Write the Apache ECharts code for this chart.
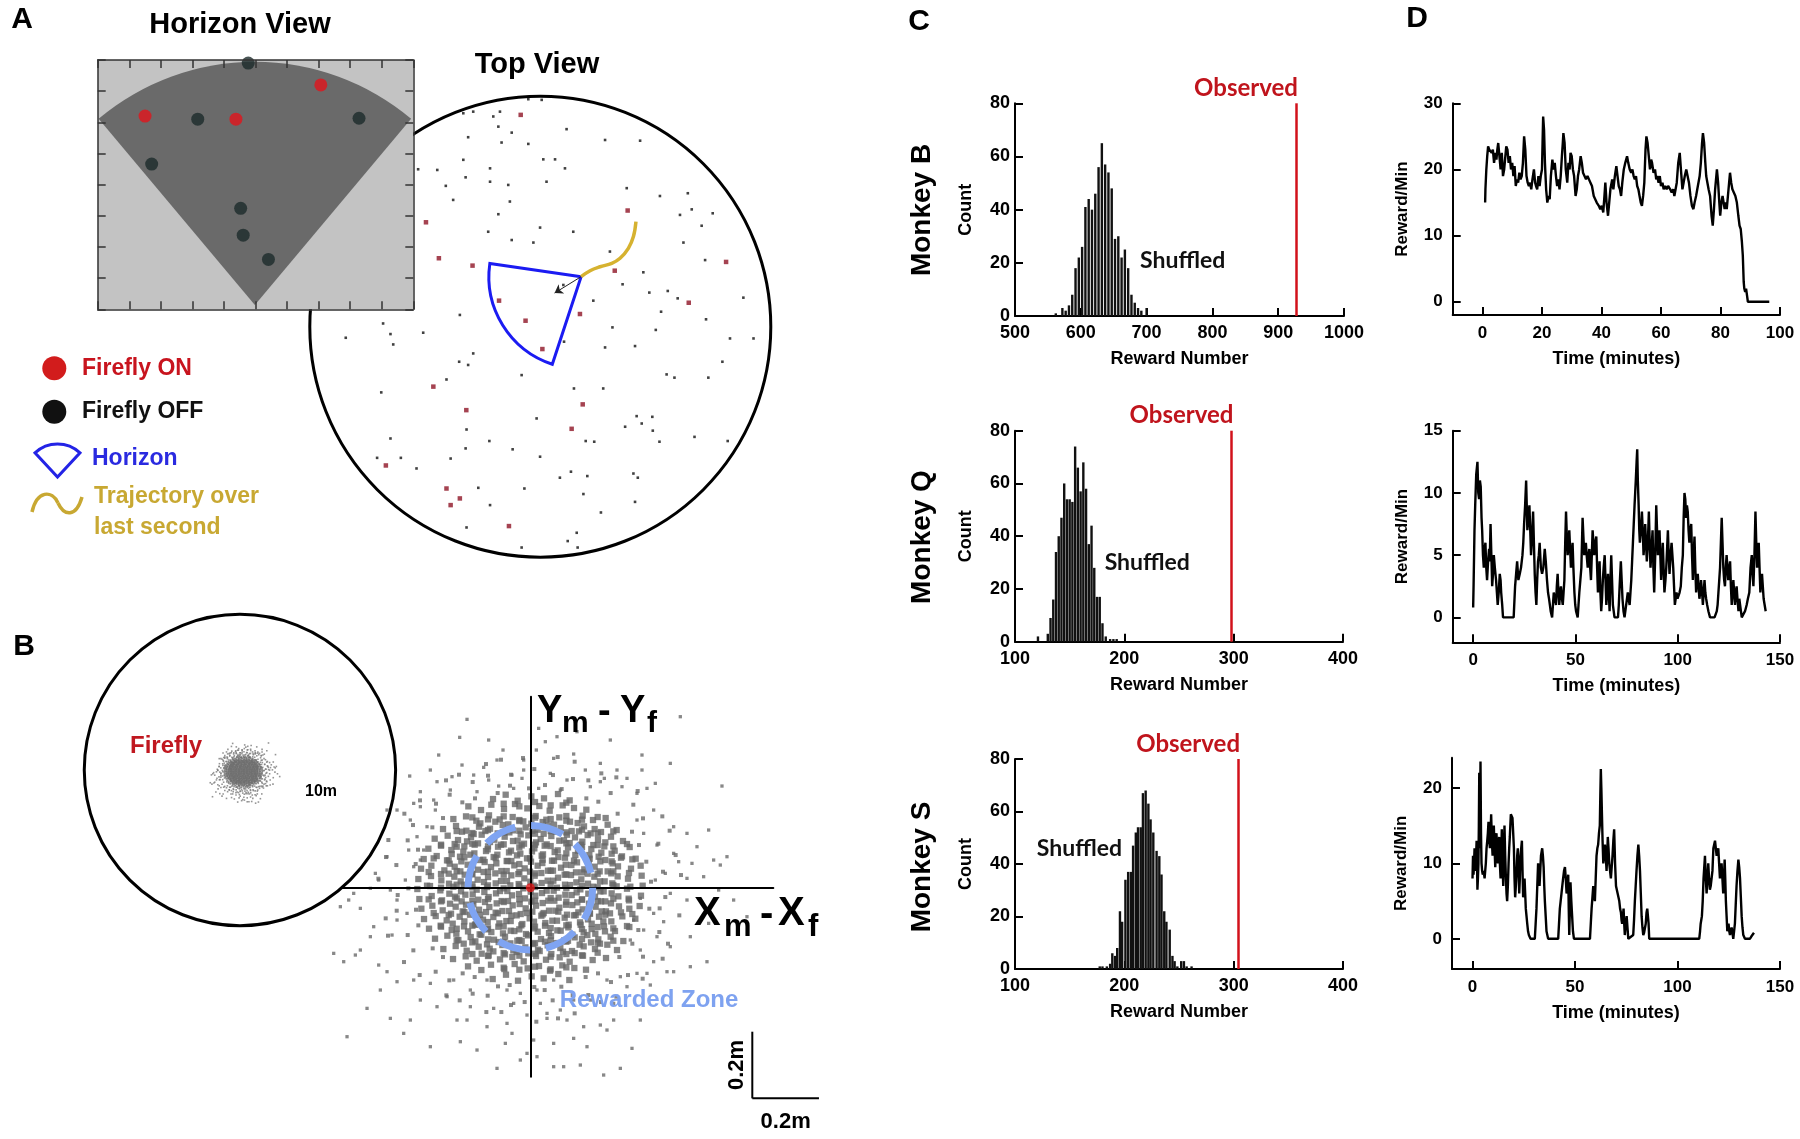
<!DOCTYPE html>
<html><head><meta charset="utf-8">
<script src="https://cdn.jsdelivr.net/npm/echarts@6/dist/echarts.min.js"></script>
<style>html,body{margin:0;padding:0;background:#fff}#c{width:1800px;height:1139px}</style>
</head><body><div id="c"></div>
<script>
const FONT = 'Liberation Sans';
// ================= DATA =================
// Panel A - horizon view (screen units: x 0..10, y 0..8)
const hvOn = [[7.07,7.2],[1.5,6.2],[4.38,6.1]];
const hvOff = [[4.77,7.9],[3.17,6.1],[8.28,6.13],[1.71,4.66],[4.53,3.24],[4.61,2.38],[5.41,1.6]];
const hvField = [[4.98,0.14,7.8,90,80]]; // apex x, apex y, radius, heading(deg), field of view(deg)
// Panel A - top view (metres)
const tvArena = [[0,0,10]];
const tvOn = [[-0.85,9.19],[3.79,5.04],[-4.96,4.53],[-4.40,2.97],[-2.94,2.65],[8.06,2.81],[3.23,2.43],[-1.79,1.13],[6.44,1.04],[-0.64,0.26],[1.72,0.55],[0.09,-0.97],[-4.64,-2.60],[1.84,-3.37],[-3.21,-3.62],[1.36,-4.43],[-6.70,-6.02],[-4.07,-7.02],[-3.49,-7.45],[-3.89,-7.74],[-1.36,-8.65]];
const tvOff = [[-1.75,9.33],[-2.91,9.33],[-2.04,9.12],[-3.34,9.26],[-0.52,9.87],[0.06,9.84],[1.14,8.57],[-1.24,8.42],[-1.82,8.68],[-1.68,7.99],[-3.13,8.22],[-0.52,7.93],[4.33,8.07],[2.81,8.10],[-3.34,7.24],[0.13,7.26],[0.64,7.26],[-2.18,6.87],[1.07,6.87],[-4.47,6.80],[-5.30,6.83],[-3.24,6.48],[-2.18,6.29],[-1.39,6.15],[0.27,6.29],[-4.10,6.11],[-3.78,5.50],[-1.32,5.43],[5.19,5.67],[6.40,5.79],[3.75,6.01],[-1.82,4.88],[6.06,4.85],[6.57,5.09],[7.48,4.92],[7.00,4.38],[-0.01,4.30],[1.43,4.12],[-2.26,4.12],[-1.24,3.76],[-0.30,3.65],[6.21,3.65],[3.02,3.26],[7.15,2.89],[4.47,2.36],[3.57,1.84],[4.73,1.48],[5.53,1.55],[5.96,1.23],[8.81,1.26],[2.30,1.13],[1.03,-0.65],[1.00,1.81],[-3.49,0.51],[5.24,0.65],[7.19,0.32],[5.01,-0.14],[3.13,-0.03],[-6.82,0.14],[-5.08,-0.26],[-6.50,-0.32],[-8.44,-0.48],[-6.38,-0.77],[8.23,-0.51],[9.25,-0.51],[4.11,-0.84],[2.81,-0.90],[-2.91,-1.16],[-3.52,-1.52],[-3.13,-1.66],[7.90,-1.52],[-0.81,-2.10],[5.48,-2.07],[5.82,-2.21],[7.29,-2.21],[-4.07,-2.29],[-6.90,-2.85],[2.73,-2.68],[1.46,-2.68],[-0.16,-3.98],[4.18,-3.88],[4.86,-3.91],[4.40,-4.20],[3.68,-4.34],[4.88,-4.51],[-3.20,-4.46],[6.69,-4.78],[-6.50,-4.85],[-2.21,-4.96],[1.97,-4.96],[2.34,-4.99],[5.17,-4.99],[8.13,-4.96],[-3.24,-5.28],[-1.20,-5.32],[-0.01,-5.64],[-7.08,-5.69],[-6.05,-5.69],[-5.37,-6.15],[-3.89,-5.72],[0.85,-6.55],[2.04,-6.48],[4.04,-6.37],[4.23,-6.55],[1.33,-6.29],[-2.69,-6.99],[-0.69,-7.02],[1.87,-7.26],[-2.18,-7.74],[4.11,-7.60],[2.63,-8.06],[-3.20,-8.71],[1.58,-8.94],[1.19,-9.30],[-0.81,-9.58],[1.62,-9.58]];
const tvHorizon = [[1.77,2.17,4.0,211.8,80]]; // apex x, y, radius, heading(deg), fov(deg)
const tvHeading = [[1.77,2.17],[0.62,1.46]];
const tvTrajectory = [[1.77,2.17],[2.16,2.43],[2.59,2.60],[3.10,2.75],[3.46,2.97],[3.82,3.40],[4.04,3.91],[4.15,4.56]];
// Panel B - stopping error (mm)
const errOuterMM = [[-190,505],[-212,451],[-82,413],[-275,398],[-300,353],[-362,335],[-205,368],[-140,361],[-170,338],[-125,323],[-95,305],[-55,338],[-25,328],[-50,298],[-20,353],[18,413],[70,388],[80,453],[25,478],[45,438],[130,401],[165,353],[210,373],[240,443],[335,398],[335,353],[375,313],[575,305],[450,513],[275,303],[320,283],[350,298],[222,328],[180,303],[110,323],[60,343],[90,293],[25,298],[-160,288],[-240,293],[-330,288],[-280,318],[-235,333],[-125,443],[-100,383],[-20,383],[140,468],[210,318],[260,353],[290,328],[420,373],
[-430,233],[-465,43],[-455,23],[-480,-2],[-530,-17],[-545,-37],[-570,-57],[-590,-197],[-560,-222],[-525,-202],[-510,-187],[-470,-117],[-480,-147],[-455,-232],[-430,-252],[-415,-142],[-400,-97],[-370,-77],[-400,-37],[-420,-7],[-375,23],[-350,63],[-330,83],[-320,113],[-365,113],[-340,153],[-310,183],[-360,203],[-400,233],[-330,243],[-285,233],[-290,263],[-350,253],[-430,93],[-510,-62],
[370,233],[430,183],[470,163],[535,173],[500,123],[550,83],[590,93],[570,68],[445,78],[405,43],[375,23],[470,28],[520,33],[420,-17],[470,-37],[535,-107],[480,-147],[530,-222],[420,-177],[380,-147],[330,-187],[370,-222],[410,-252],[320,-257],[290,-297],[360,-292],[330,-32],[370,-77],[400,-102],[310,-97],[340,-127],[300,-157],[380,128],[340,163],[320,203],[430,103],[485,73],[565,-7],[610,-37],[650,-87],
[-30,-517],[-10,-497],[20,-507],[70,-537],[100,-537],[150,-532],[220,-562],[270,-542],[-100,-542],[-160,-487],[-210,-462],[-75,-467],[-55,-437],[10,-457],[70,-467],[130,-452],[170,-477],[230,-427],[305,-482],[-300,-477],[-380,-437],[-420,-392],[-490,-362],[-550,-447],[-220,-397],[-190,-397],[-130,-417],[-70,-407],[-10,-382],[50,-392],[110,-397],[160,-417],[210,-412],[250,-397],[330,-397],[-280,-357],[-330,-337],[-360,-397],[-250,-327],[-180,-357],[-110,-362],[-50,-347],[30,-347],[50,-377],[90,-367],[130,-337],[180,-337],[250,-347],[-450,-307],[-400,-282],[-350,-277],[-300,-287],[-230,-277],[-180,-307],[-130,-277],[-70,-307],[-30,-317],[20,-307],[70,-277],[230,-277],[270,-267],[350,-257],[430,-252],[480,-237]];
const errMidMM = [[362,18],[405,-28],[452,38],[348,78],[398,48],[436,98],[326,128],[384,132],[418,171],[305,168],[338,208],[396,214],[262,222],[309,249],[322,290],[204,258],[241,284],[258,331],[168,268],[174,322],[213,343],[94,296],[128,326],[133,378],[44,308],[68,338],[82,392],[-4,298],[12,356],[-22,389],[-61,306],[-58,339],[-88,384],[-98,284],[-127,336],[-133,371],[-166,268],[-173,317],[-214,339],[-204,256],[-242,279],[-253,322],[-262,209],[-283,252],[-331,262],[-294,181],[-352,188],[-378,222],[-337,114],[-368,142],[-426,143],[-344,71],[-402,68],[-433,92],[-366,-2],[-398,-22],[-456,27],[-343,-66],[-401,-69],[-434,-92],[-336,-113],[-368,-142],[-427,-144],[-293,-182],[-351,-188],[-379,-223],[-262,-208],[-284,-252],[-332,-262],[-203,-257],[-243,-278],[-252,-323],[-167,-268],[-173,-318],[-212,-338],[-97,-296],[-128,-324],[-132,-373],[-62,-292],[-58,-352],[-87,-373],[12,-298],[-17,-343],[18,-402],[43,-307],[67,-338],[83,-392],[93,-297],[127,-322],[133,-377],[166,-268],[174,-322],[212,-343],[203,-257],[242,-283],[258,-327],[267,-208],[293,-262],[337,-273],[306,-168],[338,-207],[397,-213],[324,-127],[387,-133],[413,-168],[357,-63],[388,-62],[447,-83]];
const errCoreMM = [
[-112,266],[-74,279],[-38,261],[3,274],[41,268],[83,281],[118,262],
[-186,244],[-148,233],[-117,249],[-79,236],[-46,251],[-9,238],[27,245],[58,231],[97,247],[131,239],[168,234],
[-231,206],[-193,214],[-162,201],[-124,217],[-92,205],[-53,212],[-21,199],[16,215],[48,204],[87,211],[119,198],[157,216],[188,203],[226,209],
[-262,176],[-223,185],[-192,171],[-154,183],[-121,177],[-83,188],[-52,172],[-14,181],[22,174],[53,187],[91,179],[124,170],[161,184],[193,176],[232,189],[259,173],
[-287,147],[-248,156],[-217,143],[-178,152],[-146,159],[-108,144],[-77,153],[-38,141],[-6,157],[31,146],[63,155],[101,142],[134,151],[172,158],[203,145],[242,153],[278,140],
[-306,117],[-268,126],[-237,113],[-198,124],[-167,129],[-128,115],[-97,123],[-58,111],[-26,127],[12,118],[43,126],[82,112],[113,121],[152,129],[183,116],[222,124],[253,111],[298,122],
[-320,86],[-281,95],[-250,82],[-211,93],[-180,99],[-141,84],[-110,92],[-71,80],[-40,97],[-1,88],[34,96],[65,81],[104,90],[135,98],[174,85],[205,93],[244,79],[275,94],[316,87],
[-328,57],[-297,66],[-258,52],[-227,63],[-188,69],[-157,54],[-118,62],[-87,50],[-48,67],[-17,58],[22,66],[53,51],[92,60],[123,68],[162,55],[193,63],[232,49],[263,64],[302,57],[331,66],
[-336,26],[-298,35],[-267,22],[-228,33],[-197,39],[-158,24],[-127,32],[-88,20],[-57,37],[-18,28],[13,36],[52,21],[83,30],[122,38],[153,25],[192,33],[223,19],[262,34],[293,27],[334,36],
[-339,-4],[-301,5],[-270,-8],[-231,3],[-200,9],[-161,-6],[-130,2],[-91,-10],[-60,7],[-21,-2],[10,6],[49,-9],[80,0],[119,8],[150,-5],[189,3],[220,-11],[259,4],[290,-3],[337,6],
[-333,-34],[-296,-25],[-265,-38],[-226,-27],[-195,-21],[-156,-36],[-125,-28],[-86,-40],[-55,-23],[-16,-32],[15,-24],[54,-39],[85,-30],[124,-22],[155,-35],[194,-27],[225,-41],[264,-26],[295,-33],[332,-24],
[-327,-63],[-294,-54],[-263,-68],[-224,-57],[-193,-51],[-154,-66],[-123,-58],[-84,-70],[-53,-53],[-14,-62],[17,-54],[56,-69],[87,-60],[126,-52],[157,-65],[196,-57],[227,-71],[266,-56],[297,-63],[328,-55],
[-319,-94],[-284,-85],[-251,-98],[-212,-87],[-181,-81],[-142,-96],[-111,-88],[-72,-100],[-41,-83],[-2,-92],[33,-84],[66,-99],[103,-90],[136,-82],[173,-95],[206,-87],[243,-101],[276,-86],[315,-93],
[-304,-123],[-269,-114],[-236,-127],[-199,-116],[-166,-111],[-129,-125],[-96,-117],[-59,-129],[-27,-113],[11,-122],[44,-114],[81,-128],[114,-119],[151,-111],[184,-124],[221,-116],[254,-130],[297,-118],
[-286,-153],[-249,-144],[-216,-157],[-179,-148],[-147,-141],[-109,-156],[-76,-147],[-39,-159],[-7,-143],[32,-154],[62,-145],[102,-158],[133,-149],[171,-142],[204,-155],[241,-147],[279,-160],
[-261,-184],[-224,-175],[-191,-189],[-155,-177],[-122,-183],[-84,-172],[-51,-188],[-15,-179],[23,-186],[52,-173],[90,-181],[125,-190],[160,-176],[194,-184],[231,-171],[260,-187],
[-232,-214],[-194,-206],[-161,-219],[-125,-203],[-91,-215],[-54,-208],[-20,-221],[17,-205],[47,-216],[88,-209],[118,-222],[158,-204],[187,-217],[227,-211],
[-187,-236],[-147,-247],[-118,-231],[-78,-244],[-47,-229],[-8,-242],[26,-235],[59,-249],[96,-233],[132,-241],[167,-246],
[-113,-274],[-73,-261],[-37,-279],[4,-266],[40,-272],[84,-259],[117,-277],
[-150,193],[-105,198],[-66,190],[-33,200],[3,192],[37,197],[71,189],[108,201],[142,194],
[-205,168],[-170,161],[-135,170],[-98,163],[-63,166],[-29,160],[6,171],[40,162],[76,168],[110,159],[146,169],[181,163],[212,167],
[-227,131],[-190,139],[-157,133],[-121,137],[-88,129],[-52,140],[-19,132],[17,136],[49,130],[87,141],[118,134],[156,138],[189,128],[225,136],
[-236,101],[-201,108],[-168,103],[-133,110],[-99,99],[-64,106],[-30,102],[5,109],[38,100],[73,107],[108,103],[143,111],[177,98],[213,105],[244,102],
[-242,72],[-207,79],[-172,70],[-137,77],[-102,73],[-68,80],[-33,71],[2,78],[36,74],[71,81],[106,69],[140,76],[175,72],[210,79],[247,73],
[-245,42],[-210,49],[-175,40],[-140,47],[-105,43],[-71,50],[-36,41],[-1,48],[33,44],[68,51],[103,39],[137,46],[172,42],[208,49],[243,43],
[-244,12],[-209,19],[-174,10],[-139,17],[-104,13],[-70,20],[-35,11],[0,18],[34,14],[69,21],[104,9],[138,16],[173,12],[209,19],[246,13],
[-243,-18],[-208,-11],[-173,-20],[-138,-13],[-103,-17],[-69,-10],[-34,-19],[1,-12],[35,-16],[70,-9],[105,-21],[139,-14],[174,-18],[210,-11],[244,-17],
[-241,-48],[-206,-41],[-171,-50],[-136,-43],[-101,-47],[-67,-40],[-32,-49],[3,-42],[37,-46],[72,-39],[107,-51],[141,-44],[176,-48],[212,-41],[242,-47],
[-238,-78],[-203,-71],[-168,-80],[-133,-73],[-98,-77],[-64,-70],[-29,-79],[6,-72],[40,-76],[75,-69],[110,-81],[144,-74],[179,-78],[214,-71],[239,-77],
[-233,-108],[-198,-101],[-163,-110],[-128,-103],[-93,-107],[-59,-100],[-24,-109],[11,-102],[45,-106],[80,-99],[115,-111],[149,-104],[184,-108],[219,-101],
[-222,-138],[-187,-131],[-152,-140],[-117,-133],[-82,-137],[-48,-130],[-13,-139],[22,-132],[56,-136],[91,-129],[126,-141],[160,-134],[195,-138],[224,-131],
[-200,-168],[-165,-161],[-130,-170],[-95,-163],[-60,-167],[-26,-160],[9,-169],[44,-162],[78,-166],[113,-159],[148,-171],[182,-164],[209,-168],
[-146,-198],[-111,-191],[-76,-200],[-41,-193],[-6,-197],[28,-190],[63,-199],[98,-192],[133,-196],
[-80,252],[-33,244],[14,257],[61,247],[108,255],
[-174,211],[-127,205],[-80,214],[-33,203],[14,210],[61,206],[108,215],[155,204],[202,212],
[-221,170],[-174,164],[-127,173],[-80,165],[-33,171],[14,162],[61,170],[108,166],[155,174],[202,163],[249,169],
[-268,129],[-221,123],[-174,132],[-127,124],[-80,130],[-33,121],[14,129],[61,125],[108,133],[155,122],[202,128],[249,124],[290,131],
[-290,88],[-245,82],[-198,91],[-151,83],[-104,89],[-57,80],[-10,88],[37,84],[84,92],[131,81],[178,87],[225,83],[272,90],[306,85],
[-305,47],[-268,41],[-221,50],[-174,42],[-127,48],[-80,39],[-33,47],[14,43],[61,51],[108,40],[155,46],[202,42],[249,49],[296,44],
[-310,6],[-268,0],[-221,9],[-174,1],[-127,7],[-80,-2],[-33,6],[14,2],[61,10],[108,-1],[155,5],[202,1],[249,8],[300,3],
[-305,-35],[-268,-41],[-221,-32],[-174,-40],[-127,-34],[-80,-43],[-33,-35],[14,-39],[61,-31],[108,-42],[155,-36],[202,-40],[249,-33],[296,-38],
[-290,-76],[-245,-82],[-198,-73],[-151,-81],[-104,-75],[-57,-84],[-10,-76],[37,-80],[84,-72],[131,-83],[178,-77],[225,-81],[272,-74],[306,-79],
[-268,-117],[-221,-123],[-174,-114],[-127,-122],[-80,-116],[-33,-125],[14,-117],[61,-121],[108,-113],[155,-124],[202,-118],[249,-122],[290,-115],
[-221,-158],[-174,-164],[-127,-155],[-80,-163],[-33,-157],[14,-166],[61,-158],[108,-162],[155,-154],[202,-165],[249,-159],
[-174,-199],[-127,-205],[-80,-196],[-33,-204],[14,-198],[61,-207],[108,-199],[155,-203],[202,-195],
[-80,-240],[-33,-246],[14,-237],[61,-245],[108,-239]];
const rewardZone = [[0,0,187]];      // centre x, y, radius (mm)
const fireflyPos = [[0,0]];
const scaleBar = [[666,-632,200]];   // corner x, y, length (mm)
const bArena = [[-60,30,2780]];      // small arena view (mm)
// Panel C - shuffled reward histograms
const obsB = 927, obsQ = 298, obsS = 304;
const histBinsB = [562,572,577,582,587,592,597,602,607,612,617,622,627,632,637,642,647,652,657,662,667,672,677,682,687,692,700];
const histCountsB = [1,3,2,4,8,18,22,26,41,44,40,46,56,65,57,54,48,29,30,22,25,18,8,5,3,2,3];
const histBinsQ = [121,130,132.5,135,137.5,140,142.5,145,147.5,150,152.5,155,157.5,160,162.5,165,167.5,170,172.5,175,177.5,180,183,187,190,193];
const histCountsQ = [2,3,9,16,34,40,47,60,54,54,53,74,66,57,68,58,37,44,28,17,17,7,2,1,1,1];
const histBinsS = [177.5,180,184,187,189,191.5,193.5,196,198,201,203.5,206,208,210.5,212.5,215,217,219.5,222,224,226.5,229.5,232,234,236.5,238.5,241.5,244,246,248.5,252,254.5,257,261.5];
const histCountsS = [1,1,1,2,6,5,8,22,18,34,37,37,47,52,54,54,67,68,63,57,52,45,43,36,22,18,15,5,3,1,3,3,1,1];
// Panel D - reward rate over time [minutes, rewards/min]
const rateB = [[0.9,15],[1.0,17],[1.3,20],[1.6,22],[1.9,23.5],[2.3,23],[2.7,23],[3.1,22.5],[3.5,23],[3.9,21],[4.3,22.5],[4.7,21.5],[5.0,23],[5.3,24],[5.7,22],[6.1,20],[6.5,22.5],[6.9,19],[7.3,20],[7.7,22],[8.0,23.5],[8.4,23],[8.8,21],[9.2,22],[9.6,20],[10.0,21],[10.4,19],[10.8,20.5],[11.2,17.5],[11.6,18.5],[12.0,18],[12.4,19.5],[12.8,18.5],[13.2,19],[13.6,21],[14.0,25],[14.4,23],[14.8,19],[15.2,18],[15.6,17.5],[16.0,18],[16.4,17],[16.8,18.5],[17.3,20],[17.7,18],[18.0,17.5],[18.4,17],[18.8,19],[19.2,17.5],[19.6,19],[20.0,20],[20.2,24],[20.4,28],[20.7,26],[21.0,21],[21.4,17],[21.8,15],[22.2,16],[22.6,15.5],[23.0,19],[23.5,21.5],[23.9,20],[24.3,21],[24.7,19],[25.1,17.5],[25.5,18.5],[25.9,17],[26.3,19],[26.7,22],[27.0,24],[27.2,25.5],[27.6,24],[28.0,20],[28.5,18],[28.9,21],[29.3,20],[29.6,22.5],[30.0,22],[30.4,20],[30.8,19],[31.3,16],[31.7,17],[32.1,19],[32.5,20],[33.0,22],[33.4,21],[33.8,19.5],[34.3,19],[34.8,18.5],[35.3,19],[35.8,18.5],[36.3,18],[36.8,17.5],[37.4,16],[37.9,15.5],[38.4,15],[39.1,14.5],[39.6,14],[40.1,14.5],[40.6,13.5],[41.0,16],[41.3,18],[41.7,15],[42.2,13],[42.6,15],[43.0,17],[43.6,18.5],[44.0,17],[44.5,19],[45.0,20.5],[45.4,19],[45.8,17.5],[46.2,17],[46.6,16],[47.0,18],[47.5,20],[48.0,21],[48.6,22],[49.0,21],[49.5,20],[50.0,19.5],[50.4,20],[50.8,19],[51.2,18.5],[51.6,19],[52.0,17.5],[52.4,17],[52.8,16],[53.2,15],[53.6,14.5],[54.0,16],[54.4,18],[54.8,23],[55.1,25],[55.5,24],[55.9,22],[56.3,20],[56.7,21.5],[57.0,21],[57.5,19.5],[58.0,20],[58.4,18.5],[58.7,19],[59.2,18],[59.6,19],[60.0,17.5],[60.5,18],[60.9,17],[61.4,17.5],[61.9,17],[62.4,17.5],[63.1,17],[63.6,16.5],[64.1,17],[64.5,16],[64.8,16],[65.3,18],[65.8,21],[66.3,22.5],[66.7,20],[67.2,17],[67.6,18],[68.0,19],[68.5,20],[68.9,20],[69.4,18],[69.9,16],[70.4,14.5],[70.9,14],[71.3,15],[71.8,16],[72.2,17],[72.6,17],[73.0,19],[73.4,21],[73.8,24],[74.1,25.5],[74.5,24],[74.9,21],[75.2,19],[75.6,18],[76.0,17],[76.5,16],[77.0,13],[77.4,11.5],[77.8,14],[78.2,17],[78.8,20],[79.2,18],[79.6,15],[79.9,13],[80.3,15],[80.7,16],[81.0,16],[81.4,14],[81.8,15],[82.1,14],[82.5,16],[82.9,18],[83.2,19.5],[83.6,18],[84.0,17],[84.6,17],[85.0,16],[85.5,15],[86.0,13],[86.4,11.5],[86.8,11],[87.2,9],[87.5,7],[87.8,3],[88.0,2],[88.3,1.5],[88.6,2],[88.9,1],[89.2,0],[96.4,0]];
const rateQ = [[0,0.8],[0.2,2.5],[0.65,7],[1.0,9],[1.5,11.5],[2.1,12.5],[2.5,10],[2.9,9.5],[3.3,11],[3.7,10.5],[4.1,8],[4.4,7],[4.8,5],[5.2,4],[5.6,5.5],[6.0,6],[6.4,4],[6.8,3],[7.3,4.5],[7.8,5.5],[8.1,4.5],[8.5,7.5],[8.9,5],[9.3,2.5],[9.7,3.5],[10.1,5],[10.6,4],[11.2,3],[11.6,2],[12.0,1],[12.5,2],[13.0,3.5],[13.4,3],[13.7,2],[14.2,1],[14.6,0],[15,0],[19.8,0],[20.5,2.5],[21.0,3.5],[21.5,4.5],[22.1,3],[22.8,3.5],[23.4,4],[24.1,5],[24.5,6],[24.9,7.5],[25.4,9],[25.9,11],[26.2,9],[26.5,7],[27.0,8],[27.5,9],[27.9,7],[28.3,5],[28.8,6.5],[29.3,8.5],[29.7,6],[30.1,3.5],[30.5,2],[30.9,1],[31.3,3],[31.7,4.5],[32.1,5],[32.5,6],[33.1,4],[33.7,3.5],[34.3,4],[35.0,5.5],[35.5,4.5],[36.1,3],[36.6,2],[37.1,1.5],[37.5,1],[37.9,0.5],[38.6,0],[39.0,1],[39.4,2],[40.0,1.5],[40.5,1],[40.9,2.5],[41.3,3.5],[41.7,2],[42.1,1],[42.5,2],[42.9,2.5],[43.4,1.5],[43.8,1],[44.2,2],[44.6,3],[45.0,6],[45.4,8.5],[45.8,6.5],[46.2,5],[46.6,6],[47.0,7],[47.4,5.5],[47.8,4],[48.2,5],[48.6,6],[49.0,4],[49.5,2],[49.9,1],[50.3,0.5],[51.1,0],[51.5,1],[51.9,2],[52.4,3],[52.9,4],[53.2,6],[53.5,8],[53.9,6.5],[54.3,5],[54.7,5.5],[55.1,6],[55.5,5],[56.0,4],[56.4,5],[56.8,5.5],[57.2,4],[57.6,3],[58.0,5],[58.4,7],[58.8,6],[59.2,5],[59.7,6],[60.2,6.5],[60.6,4],[61.0,2],[61.4,3],[61.8,4.5],[62.2,2],[62.6,0.5],[63.0,1.5],[63.4,3],[63.8,4],[64.3,5],[64.7,3],[65.1,1],[65.5,2],[65.9,3.5],[66.3,2],[66.7,0.5],[67.1,3],[67.5,5],[67.9,3],[68.3,1],[68.7,0.5],[69.1,0],[70.8,0],[71.2,1],[71.6,2.5],[72.2,4.5],[72.6,3],[73.0,1.5],[73.5,0.5],[74.0,0],[74.4,0.5],[74.8,1],[75.2,1.5],[75.6,2],[76.0,1.5],[76.5,1],[76.9,2],[77.3,3],[77.7,4.5],[78.1,6],[78.5,7.5],[78.9,9],[79.2,10],[79.5,11],[79.9,12.5],[80.2,13.5],[80.5,11],[80.9,9],[81.2,7],[81.5,6],[82.0,7],[82.5,8.5],[82.9,7],[83.3,5],[83.7,6],[84.1,7.5],[84.5,6],[84.9,4.5],[85.4,6],[85.9,8.5],[86.3,6],[86.7,4],[87.2,5.5],[87.7,7],[88.1,4],[88.5,2],[89.0,5],[89.5,9],[89.9,7],[90.3,5],[90.7,6],[91.1,7],[91.5,5],[91.9,3],[92.3,4.5],[92.7,6],[93.1,4],[93.5,2],[94.0,3],[94.4,4],[94.8,5.5],[95.2,7],[95.6,5],[96.0,3.5],[96.5,5],[97.0,6],[97.4,5],[97.8,4],[98.2,2.5],[98.6,1],[99.0,1.5],[99.4,2],[99.9,1.5],[100.4,1.5],[100.9,2],[101.5,2.5],[102.0,4],[102.5,5],[102.9,8],[103.3,10],[103.7,9.5],[104.1,8],[104.5,9],[104.9,8.5],[105.3,7],[105.7,6],[106.1,7],[106.6,7.5],[107.0,5],[107.4,3],[107.8,5],[108.2,6.5],[108.6,4],[109.0,2],[109.4,3],[109.8,3.5],[110.2,2.5],[110.6,1.5],[111.0,2],[111.4,3],[111.9,2],[112.3,1],[112.7,2],[113.1,3],[113.5,2],[113.9,1.5],[114.4,1],[115.0,0.5],[115.8,0],[118.0,0],[119.1,0.5],[119.5,1],[119.9,2],[120.3,3],[120.7,4],[121.1,6],[121.5,8],[121.9,6],[122.3,4],[122.7,3],[123.1,2.5],[123.5,4],[123.9,5],[124.3,4],[124.7,3],[125.2,4],[125.6,4.5],[126.0,2.5],[126.4,1],[126.8,2],[127.2,3],[127.6,2],[128.0,1],[128.4,2],[128.8,2.5],[129.2,1.5],[129.7,0.5],[130.1,1.5],[130.5,1],[130.9,0.5],[131.3,0],[132.9,0.5],[133.3,0.5],[133.7,1],[134.3,1.5],[135.0,2],[135.6,4],[136.2,5],[136.6,3.5],[137.0,2.5],[137.5,5],[138.0,8.5],[138.4,6],[138.8,4],[139.2,5],[139.6,6],[140.0,4],[140.4,2],[140.8,3],[141.2,3.5],[141.6,2.5],[142.0,1.5],[142.5,1],[143.0,0.5]];
const rateS = [[0,8],[0.25,11],[0.5,8.5],[0.75,10],[1.0,12],[1.25,9],[1.5,9],[1.75,11],[2.0,13],[2.2,10],[2.4,6.5],[2.65,8],[2.9,10],[3.1,15],[3.3,22],[3.45,16],[3.6,12],[3.75,18],[3.9,23.5],[4.15,14],[4.4,10],[4.7,9],[5.0,8.5],[5.45,9],[5.9,8],[6.2,9],[6.5,10],[6.85,12],[7.2,13],[7.5,14],[7.8,15.5],[8.15,13],[8.5,12],[8.8,14],[9.1,16.5],[9.45,13],[9.8,11],[10.1,13],[10.4,15],[10.75,12],[11.1,9.5],[11.4,12],[11.7,14],[12.05,11],[12.4,10],[12.7,12],[13.0,13.5],[13.35,10],[13.7,8],[14.0,11],[14.3,14.5],[14.65,10],[15.0,7],[15.3,11],[15.6,15],[15.95,11],[16.3,8],[16.6,6],[16.9,5],[17.25,7],[17.6,10],[17.9,12],[18.2,13.5],[18.45,15],[18.7,16.5],[19.1,16.5],[19.5,16],[19.85,14],[20.2,12],[20.5,8],[20.8,5.5],[21.15,7],[21.5,9],[21.8,11],[22.1,12],[22.45,9],[22.8,6],[23.1,8],[23.4,11],[23.75,12],[24.1,13],[24.4,9],[24.7,5.5],[25.05,6.5],[25.4,8],[25.7,6],[26.0,4],[26.35,3],[26.7,2],[27.1,1],[27.5,0.5],[28.3,0],[30.4,0],[30.8,2],[31.2,4],[31.6,7],[32.0,10],[32.35,8.5],[32.7,7],[33.05,9],[33.4,11],[33.7,11.5],[34.0,12],[34.35,11],[34.7,9.5],[35.0,7],[35.3,5],[35.7,3],[36.1,1],[36.5,0.5],[36.9,0],[41.8,0],[42.2,2],[42.6,4],[43.0,5],[43.4,6],[43.8,7],[44.2,8],[44.65,9],[45.1,9.5],[45.5,8],[45.9,6],[46.3,7],[46.7,8.5],[46.95,4],[47.2,0.5],[47.5,4],[47.8,7.5],[48.2,5],[48.6,3],[49.0,1],[49.5,0],[57.3,0],[57.7,2],[58.1,4],[58.5,5.5],[58.9,7],[59.3,6],[59.7,5],[60.1,8],[60.5,11],[60.9,12],[61.3,12.5],[61.7,14],[62.1,15],[62.35,19],[62.6,22.5],[62.85,20],[63.1,17],[63.45,13],[63.8,10],[64.2,11],[64.6,12.5],[65.0,11],[65.4,9],[65.7,11],[66.0,13.5],[66.35,12],[66.7,10],[67.1,9],[67.5,8],[67.9,9.5],[68.3,11],[68.7,13],[69.1,14.5],[69.55,10],[70.0,7],[70.4,6.5],[70.8,6],[71.2,5.5],[71.6,5],[72.0,4],[72.4,3.5],[72.7,2.5],[73.0,2],[73.35,3],[73.7,4],[74.0,2],[74.3,0.5],[74.75,2],[75.2,3],[75.6,1.5],[76.0,0],[78.4,0.5],[78.8,2.5],[79.2,5],[79.6,7],[80.0,9],[80.45,11],[80.9,12.5],[81.3,11],[81.7,9],[82.1,6],[82.5,3],[82.9,1.5],[83.3,0.5],[83.7,0.8],[84.1,1],[84.5,2],[84.9,3.5],[85.25,4],[85.6,4],[85.9,2],[86.2,0],[110.6,0],[111.0,1],[111.3,2],[111.6,2.5],[111.9,3],[112.3,5],[112.7,8],[113.05,9.5],[113.4,11],[113.8,8],[114.2,6],[114.6,8],[115.0,10],[115.4,8],[115.8,6.5],[116.2,7],[116.6,7],[117.05,9],[117.5,12],[117.9,12.5],[118.3,13],[118.7,12],[119.1,11],[119.5,11.5],[119.9,12],[120.3,10],[120.7,8],[121.1,9],[121.5,10],[121.9,8],[122.3,6],[122.65,8],[123.0,10.5],[123.3,8],[123.6,5],[123.95,3],[124.3,1],[124.6,1.5],[124.9,2],[125.25,1],[125.6,0.5],[126.0,1],[126.4,1.5],[126.8,0.8],[127.2,0],[127.6,1],[128.0,2],[128.4,4.5],[128.8,7],[129.25,9],[129.7,10.5],[130.1,9.5],[130.5,8],[130.9,5.5],[131.3,3],[131.7,1.5],[132.1,0.5],[132.9,0],[135.3,0],[136.0,0.3],[136.7,0.5],[137.3,0.8]];
const ticksDB = [0,20,40,60,80,100], ticksDQS = [0,50,100,150];
const yTicksDB = [0,10,20,30], yTicksDQ = [0,5,10,15], yTicksDS = [0,10,20];

// ================= HELPERS =================
const pair = (xs, ys) => xs.map((x, i) => [x, ys[i]]);
function sectorItem(fill, stroke, lw, useY) {
  return function (params, api) {
    const c = api.coord([api.value(0), api.value(1)]);
    const sz = api.size([api.value(2), api.value(2)]);
    const r = useY ? sz[1] : sz[0];
    const h = api.value(3), f = api.value(4);
    return {type:'sector', shape:{cx:c[0], cy:c[1], r:r, r0:0,
      startAngle:(-h - f/2)*Math.PI/180, endAngle:(-h + f/2)*Math.PI/180, clockwise:true},
      style:{fill:fill, stroke:stroke, lineWidth:lw}};
  };
}
function circleItem(stroke, lw, dash) {
  return function (params, api) {
    const c = api.coord([api.value(0), api.value(1)]);
    const r = api.size([api.value(2), 0])[0];
    const st = {fill:'none', stroke:stroke, lineWidth:lw};
    if (dash) st.lineDash = dash;
    return {type:'circle', shape:{cx:c[0], cy:c[1], r:r}, style:st};
  };
}
function scaleBarItem(params, api) {
  const x = api.value(0), y = api.value(1), L = api.value(2);
  const p0 = api.coord([x, y]), p1 = api.coord([x, y + L]), p2 = api.coord([x + L, y]);
  const ts = {fontSize:22, fontWeight:'bold', fontFamily:FONT, fill:'#000', align:'center', verticalAlign:'middle'};
  return {type:'group', children:[
    {type:'line', shape:{x1:p0[0], y1:p0[1], x2:p1[0], y2:p1[1]}, style:{stroke:'#000', lineWidth:2}},
    {type:'line', shape:{x1:p0[0], y1:p0[1], x2:p2[0], y2:p2[1]}, style:{stroke:'#000', lineWidth:2}},
    {type:'text', x:p0[0]-15, y:(p0[1]+p1[1])/2, rotation:Math.PI/2, style:Object.assign({text:'0.2m'}, ts)},
    {type:'text', x:(p0[0]+p2[0])/2, y:p0[1]+24, style:Object.assign({text:'0.2m'}, ts)}
  ]};
}
const lab = {color:'#000', fontWeight:'bold', fontSize:18, fontFamily:FONT};
const axLine = {show:true, onZero:false, lineStyle:{color:'#000', width:2}};
const tickIn = {show:true, inside:true, length:8, lineStyle:{color:'#000', width:2}};
const hidden = {show:false};
const plain = v => String(v);
function hvAxis(pos, max) {
  return {type:'value', gridIndex:0, position:pos, min:0, max:max, interval:1, z:13,
    axisLine:{show:true, onZero:false, lineStyle:{color:'#333', width:1.5}},
    axisTick:{show:true, inside:true, length:8, lineStyle:{color:'#333', width:1.5}},
    axisLabel:hidden, splitLine:hidden};
}
function blankAxis(g, min, max) {
  return {type:'value', gridIndex:g, min:min, max:max, show:false, splitLine:hidden};
}
function cX(g, min, max) {
  return {type:'value', gridIndex:g, min:min, max:max, interval:100, axisLine:axLine, axisTick:tickIn,
    axisLabel:Object.assign({margin:8, formatter:plain}, lab), splitLine:hidden,
    name:'Reward Number', nameLocation:'middle', nameGap:34, nameTextStyle:Object.assign({}, lab)};
}
function cY(g) {
  return {type:'value', gridIndex:g, min:0, max:80, interval:20, axisLine:axLine, axisTick:tickIn,
    axisLabel:Object.assign({margin:5}, lab), splitLine:hidden,
    name:'Count', nameLocation:'middle', nameGap:40, nameRotate:90, nameTextStyle:Object.assign({}, lab)};
}
function dX(g, min, max, ticks) {
  return {type:'value', gridIndex:g, min:min, max:max, axisLine:axLine,
    axisTick:Object.assign({customValues:ticks}, tickIn),
    axisLabel:Object.assign({margin:10, customValues:ticks, formatter:plain}, lab, {fontSize:17}), splitLine:hidden,
    name:'Time (minutes)', nameLocation:'middle', nameGap:35, nameTextStyle:Object.assign({}, lab, {fontSize:18})};
}
function dY(g, min, max, ticks) {
  return {type:'value', gridIndex:g, min:min, max:max, axisLine:axLine,
    axisTick:Object.assign({customValues:ticks}, tickIn),
    axisLabel:Object.assign({margin:10, customValues:ticks}, lab, {fontSize:17}), splitLine:hidden,
    name:'Reward/Min', nameLocation:'middle', nameGap:42, nameRotate:90, nameTextStyle:Object.assign({}, lab, {fontSize:17})};
}
function histSeries(idx, bins, counts, obs, shuffledAt) {
  return {type:'bar', xAxisIndex:idx, yAxisIndex:idx, data:pair(bins, counts), barWidth:2.4,
    itemStyle:{color:'#111'},
    markLine:{silent:true, symbol:'none', data:[{xAxis:obs}], label:{show:false},
      lineStyle:{color:'#d2121b', width:2.5, type:'solid'}},
    markPoint:{silent:true, data:[
      {coord:[obs, 80], symbol:'circle', symbolSize:0,
        label:{show:true, formatter:'Observed', position:[2,-3], align:'right', verticalAlign:'bottom',
          color:'#c0141c', fontSize:24, fontWeight:'bold', fontFamily:'Lato'}},
      {coord:shuffledAt, symbol:'circle', symbolSize:0,
        label:{show:true, formatter:'Shuffled', position:'right', distance:0,
          color:'#111', fontSize:23, fontWeight:'bold', fontFamily:'Lato'}}]}};
}
function txt(s, x, y, size, color, o) {
  o = o || {};
  return {type:'text', x:x, y:y, z:100, rotation:o.rot || 0,
    style:{text:s, fill:color || '#000', fontSize:size, fontWeight:o.w || 'bold', fontFamily:o.f || FONT,
      align:o.a || 'center', verticalAlign:o.v || 'middle'}};
}
const G = (l, t, w, h) => ({left:l, top:t, width:w, height:h, containLabel:false, outerBoundsMode:'none'});

// ================= OPTION =================
const option = {
  animation:false, backgroundColor:'#fff', textStyle:{fontFamily:FONT},
  grid:[
    G(97.7, 60, 315.6, 249.3),    // 0 horizon view
    G(309.8, 96.2, 461, 461),     // 1 top view
    G(86.5, 614.9, 313.6, 313.6), // 2 B small arena
    G(341.7, 696.7, 431.6, 380),  // 3 B error scatter
    G(1015, 103.3, 329, 212.7),   // 4 C monkey B
    G(1015, 430.7, 328, 211),     // 5 C monkey Q
    G(1015, 759, 328, 210),       // 6 C monkey S
    G(1452.7, 103.3, 327.3, 211.7), // 7 D monkey B
    G(1452.7, 430.7, 327.3, 211.6), // 8 D monkey Q
    G(1452, 757.7, 328, 211.3)      // 9 D monkey S
  ],
  xAxis:[
    hvAxis('bottom', 10), hvAxis('top', 10),
    blankAxis(1, -10, 10), blankAxis(2, -2800, 2800),
    {type:'value', gridIndex:3, min:-566, max:729, z:6, axisLine:{show:true, onZero:true, lineStyle:{color:'#000', width:2}},
      axisTick:hidden, axisLabel:hidden, splitLine:hidden},
    cX(4, 500, 1000), cX(5, 100, 400), cX(6, 100, 400),
    dX(7, -10, 100, ticksDB), dX(8, -10, 150, ticksDQS), dX(9, -10, 150, ticksDQS)
  ],
  yAxis:[
    hvAxis('left', 8), hvAxis('right', 8),
    blankAxis(1, -10, 10), blankAxis(2, -2800, 2800),
    {type:'value', gridIndex:3, min:-567, max:573, z:6, axisLine:{show:true, onZero:true, lineStyle:{color:'#000', width:2}},
      axisTick:hidden, axisLabel:hidden, splitLine:hidden},
    cY(4), cY(5), cY(6),
    dY(7, -2, 30, yTicksDB), dY(8, -2, 15, yTicksDQ), dY(9, -4, 24, yTicksDS)
  ],
  series:[
    // ---- Top view
    {type:'custom', name:'Arena', xAxisIndex:2, yAxisIndex:2, data:tvArena, z:2, renderItem:circleItem('#000', 3)},
    {type:'scatter', name:'Firefly OFF', xAxisIndex:2, yAxisIndex:2, data:tvOff, symbol:'rect', symbolSize:2.6, itemStyle:{color:'#111'}, z:3, clip:false},
    {type:'scatter', name:'Firefly ON', xAxisIndex:2, yAxisIndex:2, data:tvOn, symbol:'rect', symbolSize:4.5, itemStyle:{color:'#8e1426'}, z:3, clip:false},
    {type:'custom', name:'Horizon', xAxisIndex:2, yAxisIndex:2, data:tvHorizon, z:4, renderItem:sectorItem('none', '#1b1bf2', 3, false)},
    {type:'lines', name:'Heading', coordinateSystem:'cartesian2d', xAxisIndex:2, yAxisIndex:2, z:4,
      data:[{coords:tvHeading}], symbol:['none', 'arrow'], symbolSize:8, lineStyle:{color:'#222', width:1, opacity:1}},
    {type:'line', name:'Trajectory over last second', xAxisIndex:2, yAxisIndex:2, data:tvTrajectory, smooth:0.4, showSymbol:false, z:4,
      lineStyle:{color:'#d6b230', width:3.5}},
    // ---- Horizon view (drawn above top view)
    {type:'custom', xAxisIndex:0, yAxisIndex:0, data:[[0, 8, 10, 0]], z:10,
      renderItem:function (p, api) {
        const a = api.coord([api.value(0), api.value(1)]), b = api.coord([api.value(2), api.value(3)]);
        return {type:'rect', shape:{x:a[0], y:a[1], width:b[0]-a[0], height:b[1]-a[1]}, style:{fill:'#c3c3c3'}};
      }},
    {type:'custom', xAxisIndex:0, yAxisIndex:0, data:hvField, z:11, renderItem:sectorItem('#6a6a6a', 'none', 0, true)},
    {type:'scatter', xAxisIndex:0, yAxisIndex:0, data:hvOn, symbolSize:13, itemStyle:{color:'#e2141c'}, z:12},
    {type:'scatter', xAxisIndex:0, yAxisIndex:0, data:hvOff, symbolSize:13, itemStyle:{color:'#1b2b2b'}, z:12},
    // ---- Panel B
    {type:'custom', xAxisIndex:3, yAxisIndex:3, data:bArena, z:2, renderItem:circleItem('#000', 3)},
    {type:'scatter', xAxisIndex:3, yAxisIndex:3, data:errCoreMM, symbol:'rect', symbolSize:1.9, itemStyle:{color:'#6e6e6e'}, z:3, clip:false},
    {type:'scatter', xAxisIndex:3, yAxisIndex:3, data:errMidMM, symbol:'rect', symbolSize:1.6, itemStyle:{color:'#7a7a7a'}, z:3, clip:false},
    {type:'scatter', xAxisIndex:3, yAxisIndex:3, data:errOuterMM, symbol:'rect', symbolSize:1.6, itemStyle:{color:'#7a7a7a'}, z:3, clip:false},
    {type:'scatter', xAxisIndex:4, yAxisIndex:4, data:errOuterMM, symbol:'rect', symbolSize:3.3, itemStyle:{color:'#6a6a6a'}, z:3, clip:false},
    {type:'scatter', xAxisIndex:4, yAxisIndex:4, data:errMidMM, symbol:'rect', symbolSize:4, itemStyle:{color:'#6a6a6a'}, z:3, clip:false},
    {type:'scatter', xAxisIndex:4, yAxisIndex:4, data:errCoreMM, symbol:'rect', symbolSize:6.3, itemStyle:{color:'#666666'}, z:3, clip:false},
    {type:'custom', xAxisIndex:4, yAxisIndex:4, data:rewardZone, z:7, renderItem:circleItem('#7fa4f2', 7, [33, 16])},
    {type:'scatter', xAxisIndex:4, yAxisIndex:4, data:fireflyPos, symbolSize:9, itemStyle:{color:'#e01818'}, z:8},
    {type:'custom', xAxisIndex:4, yAxisIndex:4, data:scaleBar, z:8, renderItem:scaleBarItem},
    // ---- Panel C
    histSeries(5, histBinsB, histCountsB, obsB, [690, 21]),
    histSeries(6, histBinsQ, histCountsQ, obsQ, [182, 30]),
    histSeries(7, histBinsS, histCountsS, obsS, [120, 46]),
    // ---- Panel D
    {type:'line', xAxisIndex:8, yAxisIndex:8, data:rateB, showSymbol:false, lineStyle:{color:'#000', width:2.4}},
    {type:'line', xAxisIndex:9, yAxisIndex:9, data:rateQ, showSymbol:false, lineStyle:{color:'#000', width:2.4}},
    {type:'line', xAxisIndex:10, yAxisIndex:10, data:rateS, showSymbol:false, lineStyle:{color:'#000', width:2.4}}
  ],
  graphic:[
    txt('A', 22, 20, 30), txt('B', 24, 647, 30), txt('C', 919, 22, 30), txt('D', 1417, 19, 30),
    txt('Horizon View', 240, 25, 29), txt('Top View', 537, 65, 29),
    // legend of panel A
    {type:'circle', z:100, shape:{cx:54.3, cy:368.3, r:12}, style:{fill:'#d21c1c'}},
    txt('Firefly ON', 82, 369, 23, '#c8141e', {a:'left'}),
    {type:'circle', z:100, shape:{cx:54.3, cy:411.7, r:12}, style:{fill:'#111'}},
    txt('Firefly OFF', 82, 412, 23, '#111', {a:'left'}),
    {type:'sector', z:100, shape:{cx:57.5, cy:477, r:33, r0:0, startAngle:-133*Math.PI/180, endAngle:-47*Math.PI/180, clockwise:true},
      style:{fill:'none', stroke:'#2323e6', lineWidth:3}},
    txt('Horizon', 92, 459, 23, '#2a2ae0', {a:'left'}),
    {type:'bezierCurve', z:100, shape:{x1:32, y1:512, cpx1:37, cpy1:490, cpx2:52, cpy2:490, x2:58, y2:503},
      style:{fill:'none', stroke:'#c8a832', lineWidth:3.5}},
    {type:'bezierCurve', z:100, shape:{x1:58, y1:503, cpx1:64, cpy1:516, cpx2:76, cpy2:518, x2:82, y2:497},
      style:{fill:'none', stroke:'#c8a832', lineWidth:3.5}},
    txt('Trajectory over', 94, 497, 23, '#c8a832', {a:'left'}),
    txt('last second', 94, 528, 23, '#c8a832', {a:'left'}),
    // panel B
    txt('Firefly', 166, 746, 24, '#c01820'),
    txt('10m', 321, 792, 16),
    txt('Y', 537, 712, 38, '#000', {a:'left'}), txt('m', 562, 724, 30, '#000', {a:'left'}),
    txt('-', 598, 713, 38, '#000', {a:'left'}),
    txt('Y', 620, 712, 38, '#000', {a:'left'}), txt('f', 647, 724, 30, '#000', {a:'left'}),
    txt('X', 694, 914, 40, '#000', {a:'left'}), txt('m', 724, 927, 31, '#000', {a:'left'}),
    txt('-', 760, 915, 40, '#000', {a:'left'}),
    txt('X', 778, 914, 40, '#000', {a:'left'}), txt('f', 808, 927, 31, '#000', {a:'left'}),
    txt('Rewarded Zone', 649, 1000, 24, '#7ea2f0'),
    // monkey labels
    txt('Monkey B', 922, 210, 28, '#000', {rot:Math.PI/2}),
    txt('Monkey Q', 922, 537, 28, '#000', {rot:Math.PI/2}),
    txt('Monkey S', 922, 867, 28, '#000', {rot:Math.PI/2})
  ]
};
const chart = echarts.init(document.getElementById('c'), null, {renderer:'canvas', width:1800, height:1139});
chart.setOption(option);
</script></body></html>
